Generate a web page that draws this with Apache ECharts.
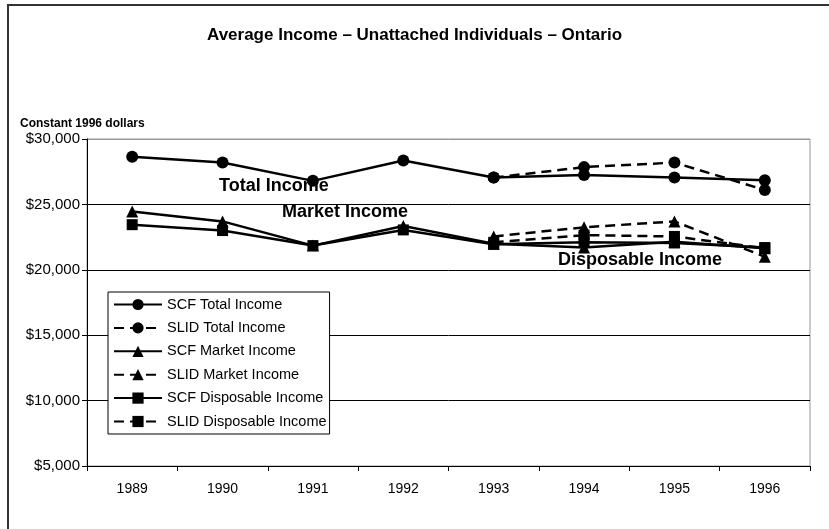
<!DOCTYPE html>
<html>
<head>
<meta charset="utf-8">
<script src="https://cdn.jsdelivr.net/npm/echarts@6/dist/echarts.min.js"></script>
<style>
  html, body { margin: 0; padding: 0; background: #fff; }
  #main { width: 829px; height: 529px; }
</style>
</head>
<body>
<div id="main"></div>
<script>
// years on the x axis
const years = ['1989', '1990', '1991', '1992', '1993', '1994', '1995', '1996'];

// constant 1996 dollars
const scfTotal    = [28650, 28200, 26800, 28350, 27050, 27250, 27050, 26850];
const slidTotal   = [null, null, null, null, 27050, 27850, 28200, 26100];
const scfMarket   = [24450, 23700, 21850, 23350, 22000, 21700, 22150, 21650];
const slidMarket  = [null, null, null, null, 22550, 23250, 23700, 21000];
const scfDisp     = [23450, 23000, 21850, 23050, 21950, 22100, 22050, 21700];
const slidDisp    = [null, null, null, null, 22100, 22650, 22550, 21650];

const yTicks = [5000, 10000, 15000, 20000, 25000, 30000];

const FONT = "'Liberation Sans', Arial, sans-serif";

function mkSeries(name, data, symbol, dashed) {
    return {
        name: name,
        type: 'line',
        data: data,
        symbol: symbol,
        symbolSize: symbol === 'rect' ? 11 : 12,
        connectNulls: false,
        lineStyle: { color: '#000', width: 2.5, type: dashed ? [10, 6] : 'solid' },
        itemStyle: { color: '#000' },
        emphasis: { disabled: true },
        animation: false
    };
}

let myChart = echarts.init(document.getElementById('main'));

let option = {
    backgroundColor: '#fff',
    animation: false,
    textStyle: { fontFamily: FONT },
    title: {
        text: 'Average Income – Unattached Individuals – Ontario',
        left: 'center',
        top: 22,
        textStyle: { fontFamily: FONT, fontSize: 17, fontWeight: 'bold', color: '#000' }
    },
    legend: {
        orient: 'vertical',
        left: 108,
        top: 292,
        backgroundColor: '#fff',
        borderColor: '#000',
        borderWidth: 1,
        borderRadius: 0,
        padding: [5, 3, 5, 5],
        itemWidth: 48,
        itemHeight: 14,
        itemGap: 8.4,
        textStyle: { fontFamily: FONT, fontSize: 14.5, color: '#000', lineHeight: 15 },
        data: ['SCF Total Income', 'SLID Total Income', 'SCF Market Income',
               'SLID Market Income', 'SCF Disposable Income', 'SLID Disposable Income']
    },
    grid: {
        left: 87, right: 19, top: 139, bottom: 63,
        show: true,
        borderColor: '#999',
        borderWidth: 1
    },
    xAxis: {
        type: 'category',
        data: years,
        boundaryGap: true,
        axisLine: { lineStyle: { color: '#000', width: 1 } },
        axisTick: { show: true, inside: false, length: 5, lineStyle: { color: '#000' } },
        axisLabel: { fontFamily: FONT, fontSize: 14, color: '#000', margin: 16 },
        splitLine: { show: false }
    },
    yAxis: {
        type: 'value',
        min: yTicks[0],
        max: yTicks[yTicks.length - 1],
        interval: 5000,
        axisLine: { show: true, lineStyle: { color: '#000', width: 1 } },
        axisTick: { show: true, inside: false, length: 5, lineStyle: { color: '#000' } },
        axisLabel: {
            fontFamily: FONT, fontSize: 15, color: '#000', margin: 7,
            formatter: function (v) { return '$' + v.toLocaleString('en-US'); }
        },
        splitLine: {
            show: true,
            lineStyle: { color: ['#000', '#000', '#000', '#000', '#000', '#999'], width: 1 }
        }
    },
    graphic: [
        {   // outer chart frame
            type: 'rect',
            shape: { x: 8, y: 5, width: 840, height: 540 },
            style: { fill: null, stroke: '#333', lineWidth: 2 },
            silent: true
        },
        {
            type: 'text', left: 20, top: 118,
            style: { text: 'Constant 1996 dollars', font: 'bold 12px ' + FONT, fill: '#000' }
        },
        {
            type: 'text', left: 219, top: 177, z: 10,
            style: { text: 'Total Income', font: 'bold 18px ' + FONT, fill: '#000' }
        },
        {
            type: 'text', left: 282, top: 203, z: 10,
            style: { text: 'Market Income', font: 'bold 18px ' + FONT, fill: '#000' }
        },
        {
            type: 'text', left: 558, top: 251, z: 10,
            style: { text: 'Disposable Income', font: 'bold 18px ' + FONT, fill: '#000' }
        }
    ],
    series: [
        mkSeries('SCF Total Income', scfTotal, 'circle', false),
        mkSeries('SLID Total Income', slidTotal, 'circle', true),
        mkSeries('SCF Market Income', scfMarket, 'triangle', false),
        mkSeries('SLID Market Income', slidMarket, 'triangle', true),
        mkSeries('SCF Disposable Income', scfDisp, 'rect', false),
        mkSeries('SLID Disposable Income', slidDisp, 'rect', true)
    ]
};

myChart.setOption(option);
</script>
</body>
</html>
